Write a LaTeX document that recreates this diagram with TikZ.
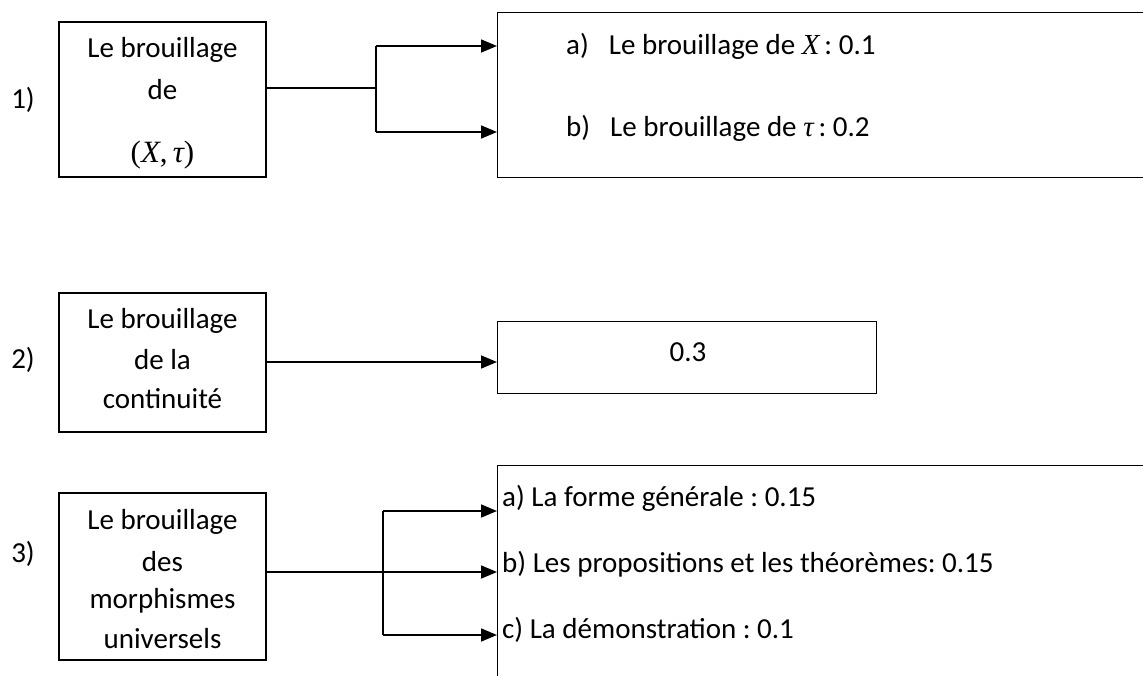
\documentclass[tikz,border=0pt]{standalone}
\usepackage{fontspec}
\setmainfont{Carlito}
\newfontfamily\mfont{Liberation Serif}
\newcommand{\mv}[1]{{\mfont\itshape #1}}
\frenchspacing
\usetikzlibrary{arrows.meta}
\begin{document}
\begin{tikzpicture}[x=1pt,y=-1pt,
  box/.style={draw,line width=1.4pt,inner sep=0pt},
  txt/.style={font=\fontsize{29}{35}\selectfont,inner sep=0pt},
  ltxt/.style={txt,anchor=west},
  conn/.style={line width=1.6pt},
  arr/.style={conn,-{Triangle[length=16pt,width=13pt]}}]
\useasboundingbox (0,0) rectangle (1143,675);
\clip (0,0) rectangle (1143,675);
% row 1
\node[txt] (n1) at (23,100) {1)};
\node[box,minimum width=207pt,minimum height=155pt] (b1) at (162.5,99.5) {};
\node[txt] (b1t1) at (162.5,50) {Le brouillage};
\node[txt] (b1t2) at (162.5,90) {de};
\node[txt] (b1t3) at (162.5,155) {\fontsize{31}{35}\selectfont\mfont(\mv{X},\,\mv{τ})};
\node[box,minimum width=700pt,minimum height=165pt,anchor=north west] (r1) at (497,12) {};
\node[ltxt] (r1a) at (566,46) {a)\hspace{20pt}Le brouillage de \mv{X}\,: 0.1};
\node[ltxt] (r1b) at (566,128) {b)\hspace{20pt}Le brouillage de \mv{τ}\,: 0.2};
\coordinate (j1) at (376,88);
\coordinate (j1a) at (376,46);
\coordinate (j1b) at (376,132);
\draw[conn] (b1.east |- j1) -- (j1);
\draw[conn] (j1a) -- (j1b);
\draw[arr] (j1a) -- (r1.west |- j1a);
\draw[arr] (j1b) -- (r1.west |- j1b);
% row 2
\node[txt] (n2) at (23,360) {2)};
\node[box,minimum width=207pt,minimum height=139pt] (b2) at (162.5,362.5) {};
\node[txt] (b2t1) at (162.5,321) {Le brouillage};
\node[txt] (b2t2) at (162.5,360) {de la};
\node[txt] (b2t3) at (162.5,399) {continuité};
\node[box,minimum width=379pt,minimum height=72pt,anchor=north west] (r2) at (497,321) {};
\node[txt] (r2t) at (688,352) {0.3};
\coordinate (a2) at (266,362);
\draw[arr] (b2.east |- a2) -- (r2.west |- a2);
% row 3
\node[txt] (n3) at (23,554) {3)};
\node[box,minimum width=207pt,minimum height=167pt] (b3) at (162.5,576.5) {};
\node[txt] (b3t1) at (162.5,522) {Le brouillage};
\node[txt] (b3t2) at (162.5,562) {des};
\node[txt] (b3t3) at (162.5,601) {morphismes};
\node[txt] (b3t4) at (162.5,639) {universels};
\node[box,minimum width=700pt,minimum height=300pt,anchor=north west] (r3) at (497,465) {};
\node[ltxt] (r3a) at (502,498) {a) La forme générale : 0.15};
\node[ltxt] (r3b) at (502,564) {b) Les propositions et les théorèmes: 0.15};
\node[ltxt] (r3c) at (502,630) {c) La démonstration : 0.1};
\coordinate (m3) at (266,572);
\coordinate (j3a) at (383,511);
\coordinate (j3c) at (383,635);
\draw[arr] (b3.east |- m3) -- (r3.west |- m3);
\draw[conn] (j3a) -- (j3c);
\draw[arr] (j3a) -- (r3.west |- j3a);
\draw[arr] (j3c) -- (r3.west |- j3c);
\end{tikzpicture}
\end{document}
